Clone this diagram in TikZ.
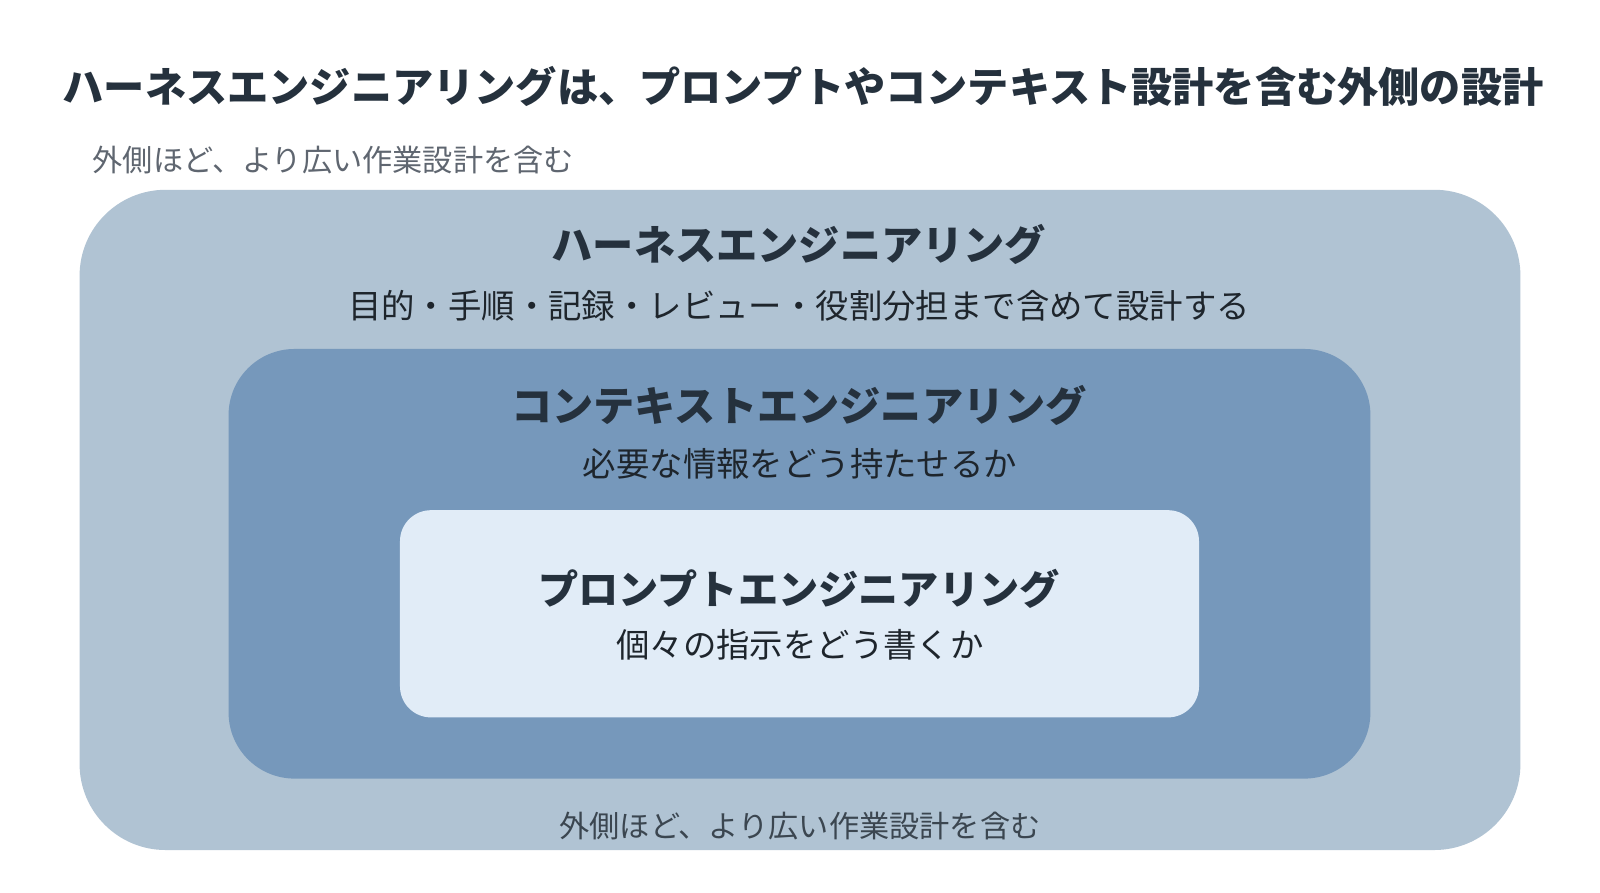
\documentclass[tikz,border=0pt]{standalone}
\usepackage{fontspec}
\setmainfont{Noto Sans CJK JP}
\usepackage{tikz}
\usetikzlibrary{positioning}

\definecolor{outerfill}{HTML}{B0C3D3}
\definecolor{midfill}{HTML}{7698BB}
\definecolor{innerfill}{HTML}{E1ECF7}
\definecolor{titleink}{HTML}{25313D}
\definecolor{noteink}{HTML}{5F6670}
\definecolor{bodyink}{HTML}{1E252C}

\begin{document}
\begin{tikzpicture}[x=0.5102pt,y=-0.5102pt,
    layer/.style={rectangle,inner sep=0pt},
    heading/.style={font=\fontsize{20.6}{24}\selectfont\bfseries,text=titleink},
    detail/.style={font=\fontsize{16.7}{20}\selectfont,text=bodyink},
    note/.style={font=\fontsize{15.1}{18}\selectfont,text=noteink}]
  \useasboundingbox[fill=white] (0,0) rectangle (1568,875);

  % nested layers
  \node[layer,fill=outerfill,rounded corners=43pt,minimum width=720.4pt,minimum height=330.1pt] (Harness) at (784,509.5) {};
  \node[layer,fill=midfill,rounded corners=33pt,minimum width=570.9pt,minimum height=214.8pt] (Context) at (783.5,552.5) {};
  \node[layer,fill=innerfill,rounded corners=15.5pt,minimum width=399.5pt,minimum height=103.6pt] (Prompt) at (783.5,601.5) {};

  % title and notes
  \node[heading] (title) at (787,85) {ハーネスエンジニアリングは、プロンプトやコンテキスト設計を含む外側の設計};
  \node[note,anchor=west] (topnote) at (84,157) {外側ほど、より広い作業設計を含む};
  \node[note,text=titleink!90] (bottomnote) at (784,810) {外側ほど、より広い作業設計を含む};

  % layer labels
  \node[heading] (harnessname) at (783,240) {ハーネスエンジニアリング};
  \node[detail]  (harnessdesc) at (783,300) {目的・手順・記録・レビュー・役割分担まで含めて設計する};
  \node[heading] (contextname) at (783,397) {コンテキストエンジニアリング};
  \node[detail]  (contextdesc) at (784,455) {必要な情報をどう持たせるか};
  \node[heading,font=\fontsize{20.1}{24}\selectfont\bfseries] (promptname) at (783,577) {プロンプトエンジニアリング};
  \node[detail]  (promptdesc)  at (784,632) {個々の指示をどう書くか};
\end{tikzpicture}
\end{document}
